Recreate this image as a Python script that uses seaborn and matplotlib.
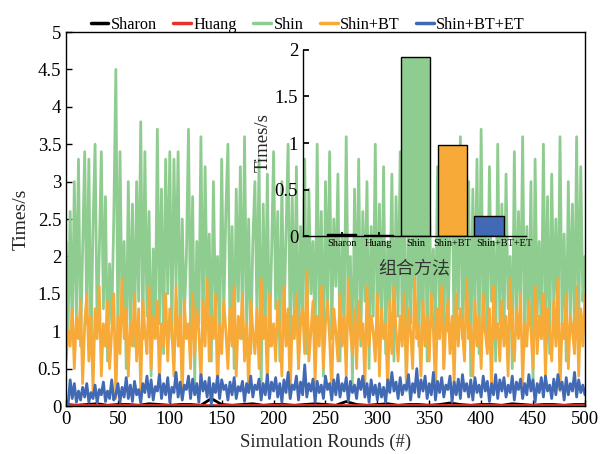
import numpy as np
import pandas as pd
import matplotlib
matplotlib.use('Agg')
import matplotlib.pyplot as plt
import matplotlib.transforms as mtransforms
import seaborn as sns

# methods, colours and mean running time (inset bars)
methods = ['Sharon', 'Huang', 'Shin', 'Shin+BT', 'Shin+BT+ET']
colors = ['#000000', '#e8312a', '#8fcc8f', '#f7aa37', '#4169b4']
mean_times = [0.02, 0.01, 1.92, 0.98, 0.22]

# simulation rounds (noisy series sampled every 2 rounds, flat ones every 10)
rounds_fine = np.arange(0, 501, 2)
rounds_coarse = np.arange(0, 501, 10)

shin = [
    2.2, 1.0, 2.6, 0.9, 3.0, 1.2, 3.3, 0.8, 2.1, 3.4,
    1.1, 3.3, 0.7, 2.4, 3.5, 1.0, 2.0, 3.4, 1.3, 2.8,
    0.6, 1.9, 1.1, 2.5, 4.5, 0.9, 3.4, 1.2, 2.2, 0.5,
    3.0, 1.0, 2.7, 0.8, 3.0, 1.4, 3.8, 0.9, 3.4, 1.2,
    2.6, 0.4, 2.1, 1.0, 3.7, 1.1, 2.9, 0.7, 3.3, 1.5,
    3.4, 0.9, 3.3, 1.6, 3.4, 0.8, 2.5, 1.2, 2.0, 3.7,
    1.0, 2.8, 0.3, 2.2, 1.1, 3.6, 0.9, 3.2, 1.4, 2.3,
    0.6, 3.0, 1.3, 2.0, 0.8, 3.3, 1.2, 2.6, 3.5, 1.0,
    2.4, 0.5, 2.9, 1.4, 3.2, 0.9, 3.6, 1.1, 2.5, 0.7,
    2.2, 3.0, 1.2, 3.3, 0.2, 2.7, 1.0, 3.1, 0.8, 2.0,
    3.4, 1.3, 2.6, 0.6, 3.0, 1.1, 2.3, 3.5, 0.9, 2.8,
    1.0, 3.2, 0.5, 2.4, 1.2, 3.3, 0.7, 2.9, 1.5, 2.2,
    0.8, 3.5, 1.1, 2.6, 0.4, 3.0, 1.3, 3.4, 0.9, 2.5,
    1.6, 3.1, 0.6, 2.3, 1.0, 3.6, 1.2, 2.0, 0.3, 2.9,
    1.1, 3.3, 0.8, 2.6, 1.4, 3.0, 0.5, 2.4, 1.2, 3.5,
    0.9, 2.7, 1.0, 3.2, 0.7, 2.2, 1.3, 3.1, 0.6, 2.8,
    1.2, 3.4, 0.9, 2.5, 0.2, 3.0, 1.1, 2.3, 1.4, 3.3,
    0.8, 2.6, 1.0, 3.5, 0.6, 2.9, 1.3, 2.1, 0.9, 3.2,
    1.2, 2.8, 0.5, 3.4, 1.0, 2.4, 3.1, 0.8, 2.7, 1.3,
    3.6, 0.9, 2.3, 1.1, 3.0, 0.4, 2.9, 1.2, 3.3, 0.7,
    3.7, 1.0, 2.5, 0.8, 3.2, 1.4, 2.2, 0.6, 3.5, 1.1,
    2.7, 0.9, 3.1, 1.3, 2.0, 0.5, 3.4, 1.0, 2.6, 1.2,
    3.6, 0.8, 2.4, 1.1, 3.0, 0.3, 3.3, 1.2, 2.2, 0.9,
    3.5, 1.0, 2.8, 0.7, 3.1, 1.3, 2.5, 0.9, 3.6, 1.1,
    2.3, 0.6, 3.0, 1.2, 2.7, 0.8, 3.6, 1.0, 3.2, 1.4,
    2.0,
]

shin_bt = [
    0.6, 1.0, 0.8, 1.3, 0.5, 1.2, 0.9, 1.4, 0.3, 1.1,
    1.5, 0.6, 1.2, 0.2, 1.3, 0.9, 1.6, 0.4, 1.1, 0.8,
    1.4, 0.5, 1.0, 1.5, 0.1, 1.2, 0.7, 1.7, 0.9, 1.3,
    0.4, 1.1, 0.8, 1.5, 0.6, 1.3, 0.2, 1.4, 1.0, 0.7,
    1.6, 0.5, 1.2, 0.9, 1.4, 0.3, 1.1, 0.8, 1.5, 0.6,
    1.3, 1.0, 0.4, 1.6, 0.8, 1.2, 0.1, 1.4, 0.9, 1.1,
    0.5, 1.5, 0.7, 1.3, 1.0, 0.3, 1.4, 0.8, 1.7, 0.6,
    1.2, 0.9, 1.5, 0.2, 1.1, 0.7, 1.4, 1.0, 0.5, 1.3,
    0.8, 1.6, 0.4, 1.2, 0.9, 1.5, 0.6, 1.1, 0.2, 1.4,
    1.0, 0.7, 1.3, 0.5, 1.7, 0.9, 1.2, 0.3, 1.5, 0.8,
    1.1, 0.6, 1.4, 1.0, 0.4, 1.6, 0.8, 1.3, 0.1, 1.2,
    0.9, 1.5, 0.5, 1.1, 1.3, 0.7, 1.8, 0.6, 1.0, 1.4,
    0.3, 1.2, 0.8, 1.6, 0.5, 1.1, 1.4, 0.9, 0.2, 1.3,
    1.0, 0.6, 1.5, 0.8, 1.2, 0.4, 1.7, 1.0, 0.7, 1.3,
    0.5, 1.4, 0.9, 1.1, 0.3, 1.6, 0.8, 1.2, 1.0, 0.6,
    1.5, 0.4, 1.3, 0.9, 1.1, 0.2, 1.4, 0.7, 1.6, 1.0,
    0.6, 1.2, 0.8, 1.5, 0.3, 1.3, 1.0, 0.5, 1.7, 0.9,
    1.1, 0.4, 1.4, 0.8, 1.2, 0.6, 1.5, 1.0, 0.2, 1.3,
    0.9, 1.6, 0.5, 1.1, 1.4, 0.7, 1.2, 0.3, 1.5, 0.8,
    1.3, 1.0, 0.6, 1.7, 0.9, 1.1, 0.4, 1.4, 0.8, 1.2,
    0.5, 1.5, 1.0, 0.7, 1.3, 0.2, 1.6, 0.9, 1.1, 0.6,
    1.4, 0.8, 1.2, 0.4, 1.7, 1.0, 0.6, 1.3, 0.9, 1.5,
    0.3, 1.1, 0.8, 1.4, 1.0, 0.5, 1.6, 0.7, 1.2, 0.9,
    1.5, 0.4, 1.3, 1.0, 0.6, 1.4, 0.8, 1.7, 0.2, 1.1,
    0.9, 1.5, 0.5, 1.2, 1.0, 0.7, 1.6, 0.4, 1.3, 0.8,
    1.5,
]

shin_bt_et = [
    0.05, 0.02, 0.35, 0.10, 0.30, 0.05, 0.20, 0.08, 0.25, 0.12,
    0.30, 0.05, 0.18, 0.10, 0.28, 0.04, 0.22, 0.15, 0.32, 0.06,
    0.20, 0.10, 0.35, 0.08, 0.15, 0.30, 0.05, 0.25, 0.12, 0.38,
    0.10, 0.28, 0.06, 0.33, 0.15, 0.22, 0.04, 0.30, 0.18, 0.40,
    0.12, 0.35, 0.08, 0.26, 0.20, 0.42, 0.10, 0.30, 0.15, 0.38,
    0.05, 0.25, 0.18, 0.45, 0.12, 0.32, 0.08, 0.28, 0.22, 0.40,
    0.10, 0.36, 0.15, 0.30, 0.05, 0.42, 0.20, 0.33, 0.12, 0.38,
    0.02, 0.30, 0.18, 0.40, 0.10, 0.35, 0.22, 0.28, 0.08, 0.32,
    0.15, 0.38, 0.10, 0.26, 0.20, 0.33, 0.06, 0.30, 0.18, 0.40,
    0.12, 0.28, 0.22, 0.36, 0.08, 0.30, 0.15, 0.42, 0.10, 0.32,
    0.20, 0.38, 0.12, 0.30, 0.05, 0.35, 0.18, 0.45, 0.10, 0.28,
    0.22, 0.40, 0.08, 0.32, 0.15, 0.55, 0.12, 0.30, 0.20, 0.36,
    0.05, 0.33, 0.18, 0.28, 0.10, 0.40, 0.22, 0.30, 0.08, 0.35,
    0.15, 0.42, 0.12, 0.30, 0.20, 0.38, 0.06, 0.33, 0.18, 0.28,
    0.10, 0.36, 0.22, 0.40, 0.12, 0.30, 0.05, 0.35, 0.15, 0.28,
    0.08, 0.30, 0.12, 0.25, 0.05, 0.35, 0.18, 0.45, 0.20, 0.32,
    0.10, 0.38, 0.15, 0.28, 0.22, 0.42, 0.08, 0.30, 0.18, 0.50,
    0.12, 0.35, 0.20, 0.40, 0.10, 0.30, 0.15, 0.45, 0.08, 0.33,
    0.18, 0.38, 0.12, 0.28, 0.22, 0.40, 0.05, 0.32, 0.15, 0.36,
    0.10, 0.42, 0.20, 0.30, 0.12, 0.35, 0.08, 0.38, 0.18, 0.28,
    0.12, 0.40, 0.20, 0.33, 0.06, 0.30, 0.15, 0.42, 0.10, 0.35,
    0.20, 0.38, 0.12, 0.28, 0.18, 0.40, 0.08, 0.32, 0.22, 0.36,
    0.10, 0.30, 0.15, 0.42, 0.20, 0.35, 0.05, 0.30, 0.18, 0.38,
    0.12, 0.40, 0.20, 0.28, 0.10, 0.36, 0.15, 0.42, 0.22, 0.32,
    0.08, 0.38, 0.15, 0.30, 0.20, 0.45, 0.12, 0.35, 0.18, 0.28,
    0.15,
]

sharon = [
    0.02, 0.01, 0.02, 0.03, 0.01, 0.02, 0.02, 0.01, 0.03, 0.02,
    0.01, 0.02, 0.02, 0.01, 0.10, 0.02, 0.01, 0.02, 0.03, 0.01,
    0.02, 0.02, 0.01, 0.02, 0.03, 0.02, 0.01, 0.06, 0.02, 0.01,
    0.02, 0.03, 0.01, 0.02, 0.02, 0.01, 0.02, 0.04, 0.02, 0.01,
    0.02, 0.02, 0.01, 0.03, 0.02, 0.01, 0.02, 0.02, 0.01, 0.02,
    0.02,
]

huang = [
    0.01, 0.01, 0.01, 0.01, 0.01, 0.01, 0.01, 0.01, 0.01, 0.01,
    0.01, 0.01, 0.01, 0.01, 0.01, 0.01, 0.01, 0.01, 0.01, 0.01,
    0.01, 0.01, 0.01, 0.01, 0.01, 0.01, 0.01, 0.01, 0.01, 0.01,
    0.01, 0.01, 0.01, 0.01, 0.01, 0.01, 0.01, 0.01, 0.01, 0.01,
    0.01, 0.01, 0.01, 0.01, 0.01, 0.01, 0.01, 0.01, 0.01, 0.01,
    0.01,
]

series = [
    ('Sharon', rounds_coarse, sharon),
    ('Huang', rounds_coarse, huang),
    ('Shin', rounds_fine, shin),
    ('Shin+BT', rounds_fine, shin_bt),
    ('Shin+BT+ET', rounds_fine, shin_bt_et),
]
df = pd.concat([pd.DataFrame({'round': x, 'time': y, 'method': name})
                for name, x, y in series], ignore_index=True)
bar_df = pd.DataFrame({'method': methods, 'time': mean_times})

sns.set_theme(style='white')
plt.rcParams['font.family'] = ['Liberation Serif', 'Noto Sans CJK SC']
plt.rcParams['xtick.direction'] = 'in'
plt.rcParams['ytick.direction'] = 'in'
plt.rcParams['axes.edgecolor'] = 'black'
plt.rcParams['text.color'] = 'black'
plt.rcParams['xtick.color'] = 'black'
plt.rcParams['ytick.color'] = 'black'

fig = plt.figure(figsize=(6.03, 4.54), dpi=100)

# main line chart
ax = fig.add_axes([0.1095, 0.1057, 0.8605, 0.8238])
sns.lineplot(data=df, x='round', y='time', hue='method', hue_order=methods,
             palette=colors, linewidth=2.0, estimator=None, ax=ax)
ax.set_xlim(0, 500)
ax.set_ylim(0, 5)
ax.set_xticks(np.arange(0, 501, 50))
ax.set_yticks(np.arange(0, 5.01, 0.5))
ax.set_yticklabels([f'{v:g}' for v in np.arange(0, 5.01, 0.5)])
ax.tick_params(labelsize=13.5, length=4, width=1, left=True, bottom=True)
ax.set_xlabel('Simulation Rounds (#)', fontsize=13.5)
ax.set_ylabel('Times/s', fontsize=14, labelpad=6)
for sp in ax.spines.values():
    sp.set_visible(True)
    sp.set_color('black')
    sp.set_linewidth(1)
sns.move_legend(ax, 'lower center', bbox_to_anchor=(0.466, 0.985), ncol=5,
                frameon=False, title=None, fontsize=11.7, handlelength=1.1,
                handletextpad=0.15, columnspacing=1.0, borderaxespad=0.1,
                borderpad=0.2)
for h in ax.get_legend().get_lines():
    h.set_linewidth(2.5)

# inset bar chart of mean times
ins = fig.add_axes([0.5025, 0.480, 0.3698, 0.410])
ins.patch.set_alpha(0)
sns.barplot(data=bar_df, x='method', y='time', hue='method', palette=colors,
            saturation=1, edgecolor='black', linewidth=1, width=0.8,
            legend=False, ax=ins)
ins.set_xlim(-1.05, 5.0)
ins.set_ylim(0, 2)
ins.set_yticks([0, 0.5, 1, 1.5, 2])
ins.set_yticklabels(['0', '0.5', '1', '1.5', '2'])
ins.tick_params(axis='y', labelsize=13.5, length=4, left=True)
ins.tick_params(axis='x', labelsize=7.5, length=3, bottom=True, pad=2)
# the last category label sits a little right of its bar in the original
last = ins.get_xticklabels()[-1]
last.set_transform(last.get_transform() +
                   mtransforms.ScaledTranslation(0.15, 0, fig.dpi_scale_trans))
ins.set_ylabel('Times/s', fontsize=13.5, labelpad=2)
ins.set_xlabel('组合方法', fontsize=13, family=['Noto Sans CJK SC'],
               color='#333333', labelpad=8)
for side in ['top', 'right']:
    ins.spines[side].set_visible(False)
for side in ['left', 'bottom']:
    ins.spines[side].set_color('black')
    ins.spines[side].set_linewidth(1)

fig.savefig('out.png', dpi=100)
